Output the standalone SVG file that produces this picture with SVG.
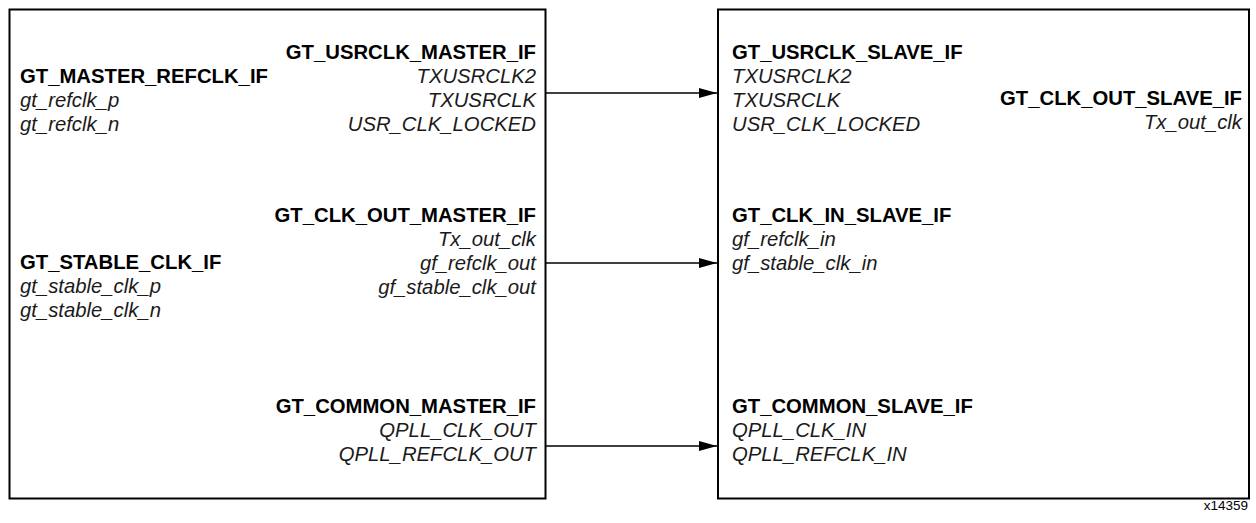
<svg xmlns="http://www.w3.org/2000/svg" width="1256" height="523" viewBox="0 0 1256 523">
<style>
.box{fill:#fff;stroke:#000;stroke-width:2}
.h{font-family:"Liberation Sans",Arial,sans-serif;font-size:20.3px;font-weight:bold;fill:#000}
.s{font-family:"Liberation Sans",Arial,sans-serif;font-size:20.3px;font-style:italic;fill:#1a1a1a}
.r{text-anchor:end}
.c{stroke:#000;stroke-width:1.3;fill:none}
.id{font-family:"Liberation Sans",Arial,sans-serif;font-size:13.5px;fill:#000;text-anchor:end}
</style>
<defs>
<marker id="ah" markerUnits="userSpaceOnUse" markerWidth="18" markerHeight="12" refX="18" refY="6" orient="auto">
<path d="M0,1 L18,6 L0,11 Z" fill="#000"/>
</marker>
</defs>
<rect width="1256" height="523" fill="#fff"/>
<g id="master">
<rect class="box" x="9.5" y="9.5" width="536" height="489"/>
<text class="h" x="20" y="83">GT_MASTER_REFCLK_IF</text>
<text class="s" x="20" y="107">gt_refclk_p</text>
<text class="s" x="20" y="131">gt_refclk_n</text>
<text class="h" x="20" y="269">GT_STABLE_CLK_IF</text>
<text class="s" x="20" y="293">gt_stable_clk_p</text>
<text class="s" x="20" y="317">gt_stable_clk_n</text>
<text class="h r" x="536" y="59">GT_USRCLK_MASTER_IF</text>
<text class="s r" x="536" y="83">TXUSRCLK2</text>
<text class="s r" x="536" y="107">TXUSRCLK</text>
<text class="s r" x="536" y="131">USR_CLK_LOCKED</text>
<text class="h r" x="536" y="222">GT_CLK_OUT_MASTER_IF</text>
<text class="s r" x="536" y="246">Tx_out_clk</text>
<text class="s r" x="536" y="270">gf_refclk_out</text>
<text class="s r" x="536" y="294">gf_stable_clk_out</text>
<text class="h r" x="536" y="413">GT_COMMON_MASTER_IF</text>
<text class="s r" x="536" y="437">QPLL_CLK_OUT</text>
<text class="s r" x="536" y="461">QPLL_REFCLK_OUT</text>
</g>
<g id="slave">
<rect class="box" x="718" y="9.5" width="531" height="489"/>
<text class="h" x="732" y="59">GT_USRCLK_SLAVE_IF</text>
<text class="s" x="732" y="83">TXUSRCLK2</text>
<text class="s" x="732" y="107">TXUSRCLK</text>
<text class="s" x="732" y="131">USR_CLK_LOCKED</text>
<text class="h" x="732" y="222">GT_CLK_IN_SLAVE_IF</text>
<text class="s" x="732" y="246">gf_refclk_in</text>
<text class="s" x="732" y="270">gf_stable_clk_in</text>
<text class="h" x="732" y="413">GT_COMMON_SLAVE_IF</text>
<text class="s" x="732" y="437">QPLL_CLK_IN</text>
<text class="s" x="732" y="461">QPLL_REFCLK_IN</text>
<text class="h r" x="1242" y="105">GT_CLK_OUT_SLAVE_IF</text>
<text class="s r" x="1242" y="129">Tx_out_clk</text>
</g>
<g id="connectors">
<line class="c" x1="546" y1="93" x2="717" y2="93" marker-end="url(#ah)"/>
<line class="c" x1="546" y1="263" x2="717" y2="263" marker-end="url(#ah)"/>
<line class="c" x1="546" y1="446" x2="717" y2="446" marker-end="url(#ah)"/>
</g>
<text class="id" x="1248" y="510">x14359</text>
</svg>
